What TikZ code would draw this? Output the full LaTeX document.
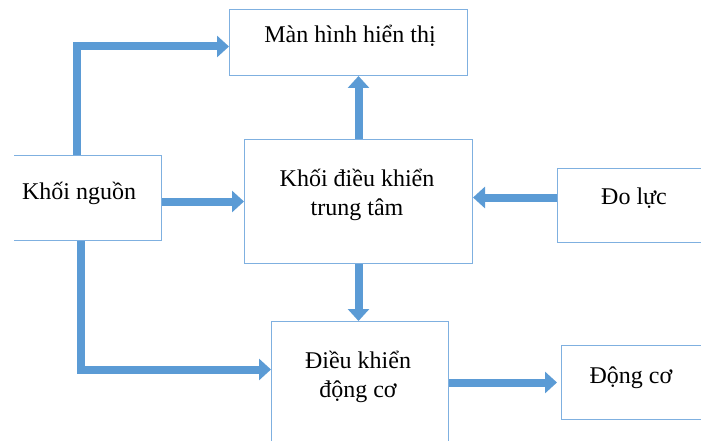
\documentclass[tikz,border=0pt]{standalone}
\usepackage{fontspec}
\setmainfont{Liberation Serif}
\usetikzlibrary{arrows.meta,positioning,calc}
\definecolor{boxline}{HTML}{7FB0E0}
\definecolor{flowc}{HTML}{5B9BD5}
\tikzset{
  box/.style={draw=boxline,line width=1pt,fill=white,inner sep=0pt,anchor=north west},
  txt/.style={font=\fontsize{24}{29}\selectfont,align=center,inner sep=0pt,anchor=base},
  flow/.style={-{Triangle[length=12pt,width=21pt]},line width=8pt,draw=flowc},
}
\begin{document}
\begin{tikzpicture}[x=1pt,y=-1pt]
  \useasboundingbox (0,0) rectangle (701,441);
  \clip (14.2,0) rectangle (701,441);
  % blocks
  \node[box,minimum width=238pt,minimum height=66pt] (screen) at (229,9) {};
  \node[box,minimum width=148pt,minimum height=85pt] (src) at (13,155) {};
  \node[box,minimum width=228pt,minimum height=124pt] (ctrl) at (244,139) {};
  \node[box,minimum width=160pt,minimum height=74pt] (force) at (557,168) {};
  \node[box,minimum width=177pt,minimum height=140pt] (drv) at (271,321) {};
  \node[box,minimum width=160pt,minimum height=74pt] (motor) at (561,345) {};
  % texts
  \node[txt] (tscreen) at (350,43) {Màn hình hiển thị};
  \node[txt] (tsrc) at (79,199) {Khối nguồn};
  \node[txt] (tctrl) at (357,215) {Khối điều khiển\\trung tâm};
  \node[txt] (tforce) at (634,204) {Đo lực};
  \node[txt] (tdrv) at (358,397) {Điều khiển\\động cơ};
  \node[txt] (tmotor) at (631,383) {Động cơ};
  % flows
  \draw[flow] ([xshift=-11pt]src.north) |- ([yshift=-4pt]screen.west);
  \draw[flow] (src.east |- ctrl.west) -- (ctrl.west);
  \draw[flow] (ctrl.north) -- (ctrl.north |- screen.south);
  \draw[flow] ([yshift=8pt]force.west) -- ([yshift=8pt]force.west -| ctrl.east);
  \draw[flow] (ctrl.south) -- (ctrl.south |- drv.north);
  \draw[flow] ([xshift=-7pt]src.south) |- ([yshift=22pt]drv.west);
  \draw[flow] (drv.east |- motor.west) -- ([xshift=-4pt]motor.west);
\end{tikzpicture}
\end{document}
